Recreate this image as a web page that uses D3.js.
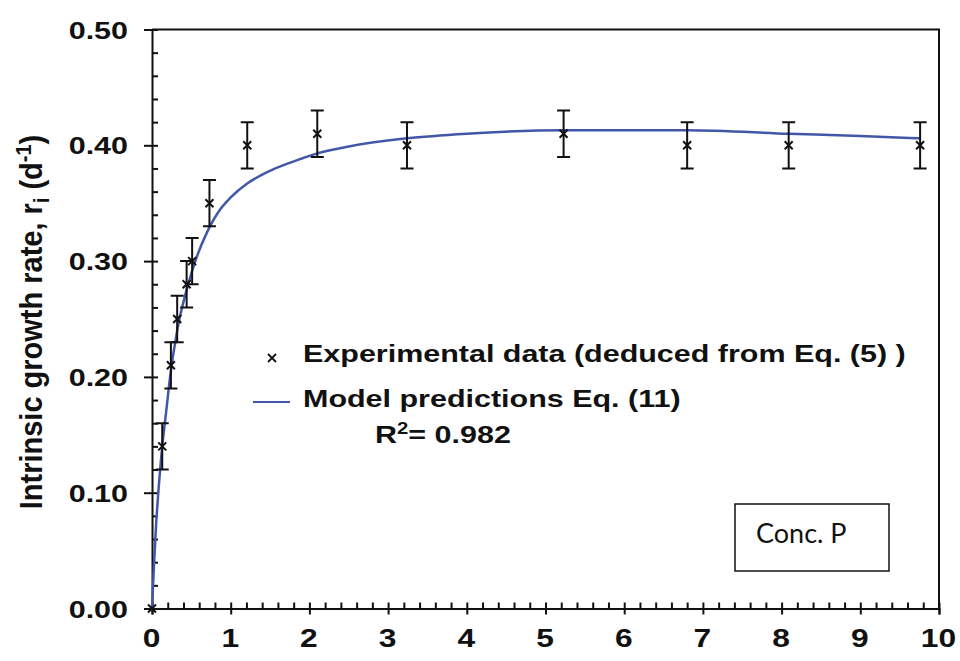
<!DOCTYPE html>
<html>
<head>
<meta charset="utf-8">
<script src="https://cdn.jsdelivr.net/npm/d3@7"></script>
<style>
  body { margin: 0; background: #fff; }
  svg { display: block; }
  text { font-family: "Liberation Sans", Arial, sans-serif; font-weight: bold; fill: #111; }
</style>
</head>
<body>
<div class="container"></div>
<script>
// experimental points (concentration, rate, error)
const expConc = [0, 0.13, 0.24, 0.32, 0.44, 0.51, 0.73, 1.21, 2.10, 3.24, 5.23, 6.80, 8.09, 9.76]
const expRate = [0.00, 0.14, 0.21, 0.25, 0.28, 0.30, 0.35, 0.40, 0.41, 0.40, 0.41, 0.40, 0.40, 0.40]
const expErr  = [0, 0.02, 0.02, 0.02, 0.02, 0.02, 0.02, 0.02, 0.02, 0.02, 0.02, 0.02, 0.02, 0.02]

// model curve
const modelConc = [0, 0.02, 0.05, 0.08, 0.13, 0.18, 0.23, 0.32, 0.46, 0.55, 0.70, 0.87, 1.00, 1.21, 1.50, 1.88, 2.10, 2.50, 3.24, 4.00, 5.23, 6.80, 8.09, 9.00, 9.76]
const modelRate = [0, 0.03, 0.07, 0.10, 0.14, 0.17, 0.20, 0.24, 0.28, 0.30, 0.325, 0.345, 0.355, 0.367, 0.378, 0.388, 0.393, 0.399, 0.406, 0.410, 0.413, 0.413, 0.41, 0.408, 0.406]

const xTicks = [0, 1, 2, 3, 4, 5, 6, 7, 8, 9, 10]
const yTicks = [0, 0.1, 0.2, 0.3, 0.4, 0.5]

document.addEventListener('DOMContentLoaded', function(){

    const width = 960
    const height = 661
    const stretch = 1.27   // the source picture is wider than tall

    const svg = d3.select(".container")
        .append("svg")
        .attr("width", width)
        .attr("height", height)

    const xScale = d3.scaleLinear().domain([0, 10]).range([152, 939])
    const yScale = d3.scaleLinear().domain([0, 0.5]).range([608.5, 29.5])

    // frame (top + right)
    svg.append("path")
        .attr("d", `M${xScale(0)},${yScale(0.5)}H${xScale(10)}V${yScale(0)}`)
        .attr("fill", "none")
        .attr("stroke", "#111")
        .attr("stroke-width", 2)

    // x axis: minor ticks upward, major ticks downward with labels
    const xMinor = d3.range(0, 10.001, 0.2)
    svg.append("g")
        .attr("transform", `translate(0, ${yScale(0)})`)
        .call(d3.axisTop(xScale).tickValues(xMinor).tickSize(6).tickFormat(""))
        .call(g => g.select(".domain").remove())
    const xAxis = svg.append("g")
        .attr("transform", `translate(0, ${yScale(0)})`)
        .call(d3.axisBottom(xScale).tickValues(xTicks).tickSizeOuter(0).tickSize(6).tickFormat(d3.format("d")))
    xAxis.selectAll("text")
        .attr("y", null).attr("dy", null)
        .attr("transform", `translate(-1, 38) scale(${stretch}, 1)`)
        .style("font-size", "25px")

    // y axis: minor ticks inward, major ticks outward with labels
    const yMinor = d3.range(0, 0.5001, 0.02)
    svg.append("g")
        .attr("transform", `translate(${xScale(0)}, 0)`)
        .call(d3.axisRight(yScale).tickValues(yMinor).tickSize(6).tickFormat(""))
        .call(g => g.select(".domain").remove())
    const yAxis = svg.append("g")
        .attr("transform", `translate(${xScale(0)}, 0)`)
        .call(d3.axisLeft(yScale).tickValues(yTicks).tickSizeOuter(0).tickSize(8).tickFormat(d3.format(".2f")))
    yAxis.selectAll("text")
        .attr("x", null).attr("dy", "0.36em")
        .attr("transform", `translate(-24, 0) scale(${stretch}, 1)`)
        .style("font-size", "24px")

    svg.selectAll(".domain, .tick line")
        .attr("stroke", "#111")
        .attr("stroke-width", 2)
    svg.selectAll(".tick text").attr("fill", "#111")

    // y axis title
    const yTitle = svg.append("text")
        .attr("transform", `translate(42, 322) rotate(-90) scale(1, 1.1)`)
        .attr("text-anchor", "middle")
        .style("font-size", "29px")
    yTitle.append("tspan").text("Intrinsic growth rate, r")
    yTitle.append("tspan").text("i").attr("dy", 6).style("font-size", "20px")
    yTitle.append("tspan").text(" (d").attr("dy", -6)
    yTitle.append("tspan").text("-1").attr("dy", -10).style("font-size", "20px")
    yTitle.append("tspan").text(")").attr("dy", 10)

    // model curve
    const model = modelConc.map((c, i) => ({c: c, r: modelRate[i]}))
    const line = d3.line()
        .x(d => xScale(d.c))
        .y(d => yScale(d.r))
        .curve(d3.curveMonotoneX)
    svg.append("path")
        .datum(model)
        .attr("d", line)
        .attr("fill", "none")
        .attr("stroke", "#4357a8")
        .attr("stroke-width", 2.5)

    // experimental data with error bars
    const data = expConc.map((c, i) => ({c: c, r: expRate[i], e: expErr[i]}))
    const cap = 6.5
    const pts = svg.append("g")
        .selectAll("g")
        .data(data)
        .enter()
        .append("g")
    pts.filter(d => d.e > 0)
        .append("path")
        .attr("d", d => {
            const x = xScale(d.c), y0 = yScale(d.r - d.e), y1 = yScale(d.r + d.e)
            return `M${x},${y0}V${y1}M${x-cap},${y1}H${x+cap}M${x-cap},${y0}H${x+cap}`
        })
        .attr("stroke", "#111")
        .attr("stroke-width", 2)
        .attr("fill", "none")
    const s = 4
    pts.append("path")
        .attr("d", d => {
            const x = xScale(d.c), y = yScale(d.r)
            return `M${x-s},${y-s}L${x+s},${y+s}M${x-s},${y+s}L${x+s},${y-s}`
        })
        .attr("stroke", "#111")
        .attr("stroke-width", 2)

    // legend
    const legend = svg.append("g").attr("id", "legend")
    legend.append("path")
        .attr("d", "M268,354L276,362M268,362L276,354")
        .attr("stroke", "#111")
        .attr("stroke-width", 1.8)
    legend.append("text")
        .attr("transform", `translate(303, 362) scale(${stretch}, 1)`)
        .style("font-size", "24px")
        .text("Experimental data (deduced from Eq. (5) )")
    legend.append("line")
        .attr("x1", 253).attr("x2", 290)
        .attr("y1", 402).attr("y2", 402)
        .attr("stroke", "#4357a8")
        .attr("stroke-width", 2)
    legend.append("text")
        .attr("transform", `translate(303, 407) scale(${stretch}, 1)`)
        .style("font-size", "24px")
        .text("Model predictions Eq. (11)")
    const r2 = legend.append("text")
        .attr("transform", `translate(375, 443) scale(${stretch}, 1)`)
        .style("font-size", "24px")
    r2.append("tspan").text("R")
    r2.append("tspan").text("2").attr("dy", -9).style("font-size", "16px")
    r2.append("tspan").text("= 0.982").attr("dy", 9)

    // "Conc. P" box
    svg.append("rect")
        .attr("x", 735).attr("y", 504)
        .attr("width", 154).attr("height", 67)
        .attr("fill", "#fff")
        .attr("stroke", "#111")
        .attr("stroke-width", 1.5)
    svg.append("text")
        .attr("x", 756).attr("y", 543)
        .style("font-family", "Lato, sans-serif")
        .style("font-weight", "normal")
        .style("font-size", "27px")
        .text("Conc. P")

});
</script>
</body>
</html>
